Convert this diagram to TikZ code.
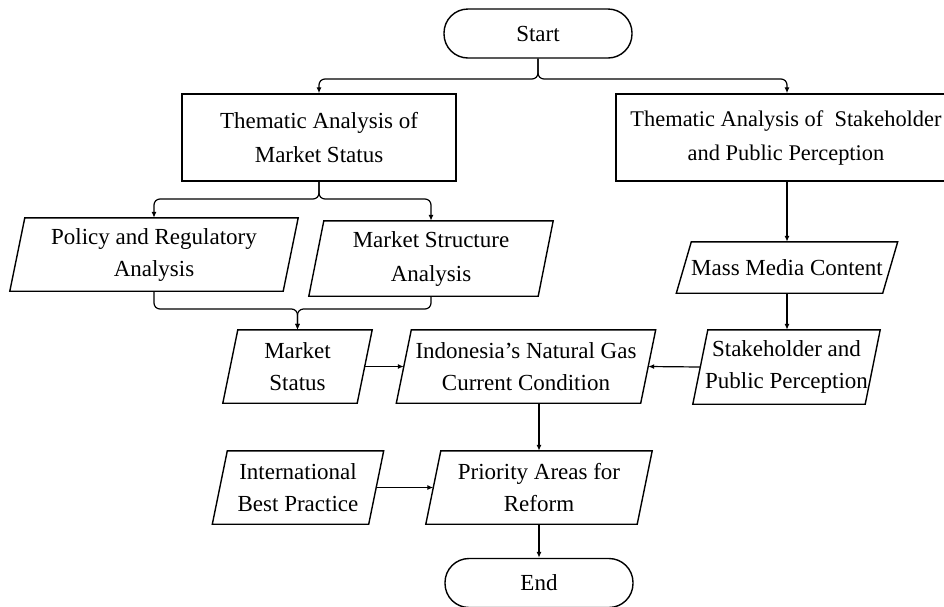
\documentclass[tikz,border=0pt]{standalone}
\usepackage{fontspec}
\setmainfont{Liberation Serif}
\usetikzlibrary{arrows.meta}
\tikzset{
  frame/.style={line width=1.4pt, line join=miter},
  txt/.style={font=\fontsize{23}{32}\selectfont, align=center, inner sep=0pt},
  term/.style={txt, frame, draw, rounded corners=24pt, minimum width=188pt, minimum height=49pt},
  boxnode/.style={txt, frame, draw},
  paranode/.style={txt},
  arr/.style={line width=1.2pt, -{Latex[length=6pt,width=5pt]}},
  brace/.style={arr, rounded corners=6pt},
}
\begin{document}
\begin{tikzpicture}[x=1pt,y=-1pt]
\fill[white] (0,0) rectangle (944,606);
\useasboundingbox (0,0) rectangle (944,606);

% terminators and rectangles
\node[term] (start) at (538,33.5) {Start};
\node[boxnode, minimum width=274pt, minimum height=87pt,
      font=\fontsize{23}{34}\selectfont] (tms) at (319,137.5) {Thematic Analysis of\\Market Status};
\node[boxnode, minimum width=340pt, minimum height=87pt,
      font=\fontsize{22.4}{34}\selectfont] (tsp) at (786,137.5) {Thematic Analysis of\ \ Stakeholder\\and Public Perception};

% parallelogram nodes (text area; outline drawn below)
\node[paranode, minimum width=273pt, minimum height=73pt] (pol) at (154,254.5) {Policy and Regulatory\\Analysis};
\node[paranode, minimum width=229pt, minimum height=75pt,
      font=\fontsize{23}{34}\selectfont] (msa) at (431,258.5) {Market Structure\\Analysis};
\node[paranode, minimum width=206pt, minimum height=51pt] (mm) at (787,267.5) {Mass Media Content};
\node[paranode, minimum width=172pt, minimum height=74pt] (spp) at (786.5,367) {Stakeholder and\\Public Perception};
\node[paranode, minimum width=134pt, minimum height=73pt] (mst) at (297.5,366.5) {Market\\Status};
\node[paranode, minimum width=244pt, minimum height=73pt] (ind) at (526,366.5) {Indonesia’s Natural Gas\\Current Condition};
\node[paranode, minimum width=156pt, minimum height=73pt] (ibp) at (298,487.5) {International\\Best Practice};
\node[paranode, minimum width=211pt, minimum height=73pt] (pri) at (539,487.5) {Priority Areas for\\Reform};
\node[term] (end) at (539,583) {End};

\foreach \n in {pol,msa,mm,spp,mst,ind,ibp,pri}
  \draw[frame] ([xshift=-7.5pt]\n.south west) -- ([xshift=7.5pt]\n.north west)
     -- ([xshift=7.5pt]\n.north east) -- ([xshift=-7.5pt]\n.south east) -- cycle;

% connectors
\draw[brace] (start.south) -- (start.south |- 0,79) -| (tms.north);
\draw[brace] (start.south) -- (start.south |- 0,79) -| (mm.north |- tsp.north);
\draw[brace] (tms.south) -- (tms.south |- 0,199) -| (pol.north);
\draw[brace] (tms.south) -- (tms.south |- 0,199) -| (msa.north);
\draw[brace] (pol.south) |- (mst.north |- 0,309) -- (mst.north);
\draw[brace] (msa.south) |- (mst.north |- 0,309) -- (mst.north);
\draw[arr] (mm.north |- tsp.south) -- (mm.north);
\draw[arr] (mm.south) -- (mm.south |- spp.north);
\draw[arr] (spp.west) -- (ind.east);
\draw[arr] (mst.east) -- (ind.west);
\draw[arr] (pri.north |- ind.south) -- (pri.north);
\draw[arr] (ibp.east) -- (pri.west);
\draw[arr] (pri.south) -- (end.north);
\end{tikzpicture}
\end{document}
